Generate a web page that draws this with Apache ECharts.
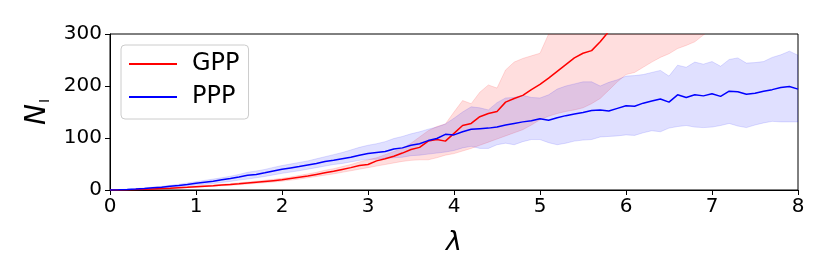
<!DOCTYPE html>
<html><head><meta charset="utf-8">
<script src="https://cdn.jsdelivr.net/npm/echarts@6/dist/echarts.min.js"></script>
<style>html,body{margin:0;padding:0;background:#fff}#c{width:830px;height:277px}</style>
</head><body><div id="c"></div>
<script>
// lambda grid (step 0.1)
const lambda = [0,0.1,0.2,0.3,0.4,0.5,0.6,0.7,0.8,0.9,1,1.1,1.2,1.3,1.4,1.5,1.6,1.7,1.8,1.9,2,2.1,2.2,2.3,2.4,2.5,2.6,2.7,2.8,2.9,3,3.1,3.2,3.3,3.4,3.5,3.6,3.7,3.8,3.9,4,4.1,4.2,4.3,4.4,4.5,4.6,4.7,4.8,4.9,5,5.1,5.2,5.3,5.4,5.5,5.6,5.7,5.8,5.9,6,6.1,6.2,6.3,6.4,6.5,6.6,6.7,6.8,6.9,7,7.1,7.2,7.3,7.4,7.5,7.6,7.7,7.8,7.9,8];

// GPP mean (red)
const gppMean = [0,0.2,0.5,0.9,1.4,2.1,2.8,3.6,4.5,5.4,6.4,7.4,8.4,9.5,10.6,12,13.5,15,16.5,18,19.5,22,24.5,27,30,33,36,39.5,43,47,49,56,60,65,71,78,82,94,97,94,109,124,128,141,147,151,169,176,182,193,203,215,228,241,254,263,268,285,305,328,350];
// GPP band
const gppLower = [0,0.1,0.3,0.7,1.1,1.7,2.4,3.1,3.8,4.6,5.4,6.3,7.2,8.1,9,10.2,11.5,12.8,14,15.4,17,19,21,23.5,26,28.5,31,34,37,40,43,46,49,52,55,57,58,58,62,67,70,75,80,86,92,98,104,110,116,125,135,142,147,151,154,158,166,176,192,208,222,226,236,246,255,262,272,278,285,298,310];
const gppUpper = [0,0.3,0.7,1.2,1.8,2.6,3.5,4.4,5.4,6.5,7.6,8.7,9.8,11,12.3,13.8,15.5,17,18.7,20.5,22.5,25,28,31,34,38,41,45,49,54,58,62,68,74,80,90,102,114,122,127,150,172,166,188,202,196,231,246,253,258,263,300,330,345,360,372,385,398,410,422,435,445,455,465,475,485,495,505,515,525,535];

// PPP mean (blue)
const pppMean = [0,0.5,1.2,2,3,4.5,5.5,7,8.5,10.5,13,15,17,19.5,22,25,28.5,30,33,36.5,40,42.5,45,48,51,55,57,60,63,67,70,72,74,79,81,86,89,95,99,107,106,112,117,118,119,121,125,128,131,133,137,134,139,143,146,149,153,154,152,157,162,161,167,171,175,169,183,178,183,181,185,180,190,189,184,186,190,193,197,199,194];
// PPP band
const pppLower = [0,0.3,0.8,1.4,2.2,3.2,4.2,5.3,6.5,8,9.5,11,12.5,14.5,16.5,19,21,23.5,26,29,32,34.5,37,40,43,46,49,51,54,57,59,59,61,62,63,66,67,69,71,73,76,81,84,80,80,87,90,87,93,97,97,91,87,90,94,96,97,102,103,104,106,105,110,114,112,119,122,124,121,120,121,124,128,123,120,125,129,132,131,131,131];
const pppUpper = [0,0.8,1.6,2.6,4,5.5,7,9,11,13.5,16,18.5,21,23.5,26.5,30,34,36.5,39.5,43.5,47,50,53,56,60,64,68,72,77,82,86,89,93,99,103,108,112,117,121,127,138,150,160,158,154,168,177,178,182,178,177,183,194,200,204,208,208,200,207,212,219,220,222,226,230,219,240,236,246,242,247,238,251,254,244,245,247,255,260,267,259];

const xTicks = [0,1,2,3,4,5,6,7,8];
const yTicks = [0,100,200,300];

const pairs = (arr) => arr.map((v, i) => [lambda[i], v]);

const chart = echarts.init(document.getElementById('c'), null, {renderer: 'canvas'});
const FONT = 'DejaVu Sans';

// band drawn as a polygon through the cartesian scales
const bandSeries = (name, lo, up, color) => ({
  name: name, type: 'custom', coordinateSystem: 'cartesian2d', clip: true, silent: true, z: 1,
  data: lo.map((v, i) => [lambda[i], v, up[i]]),
  encode: {x: 0, y: [1, 2]},
  renderItem: function (params, api) {
    if (params.dataIndex !== 0) return null;
    const top = [], bot = [];
    for (let i = 0; i < lo.length; i++) {
      top.push(api.coord([lambda[i], up[i]]));
      bot.push(api.coord([lambda[i], lo[i]]));
    }
    const pts = top.concat(bot.reverse());
    return {type: 'polygon', shape: {points: pts},
            style: {fill: color, stroke: color, lineWidth: 1}};
  }
});

chart.setOption({
  animation: false,
  backgroundColor: '#fff',
  grid: {left: 110, right: 32, top: 34, bottom: 87, show: true, borderColor: '#000', borderWidth: 1, backgroundColor: 'transparent'},
  xAxis: {
    type: 'value', min: xTicks[0], max: xTicks[xTicks.length - 1], interval: 1,
    name: 'λ', nameLocation: 'middle', nameGap: 39,
    nameTextStyle: {fontFamily: FONT, fontSize: 27, fontStyle: 'italic', color: '#000'},
    axisLine: {show: true, lineStyle: {color: '#000', width: 1}},
    axisTick: {show: true, length: 5, lineStyle: {color: '#000'}},
    axisLabel: {fontFamily: FONT, fontSize: 20, color: '#000', margin: 7, showMinLabel: true, showMaxLabel: true},
    splitLine: {show: false}
  },
  yAxis: {
    type: 'value', min: yTicks[0], max: yTicks[yTicks.length - 1], interval: 100,
    name: '{n|N}{s|I}', nameLocation: 'middle', nameGap: 58, nameRotate: 90,
    nameTextStyle: {
      rich: {
        n: {fontFamily: FONT, fontSize: 28, fontStyle: 'italic', color: '#000', verticalAlign: 'bottom'},
        s: {fontFamily: FONT, fontSize: 14, color: '#000', verticalAlign: 'bottom', padding: [0, 0, 0, 1]}
      }
    },
    axisLine: {show: true, lineStyle: {color: '#000', width: 1}},
    axisTick: {show: true, length: 5, lineStyle: {color: '#000'}},
    axisLabel: {fontFamily: FONT, fontSize: 20, color: '#000', margin: 8, showMinLabel: true, showMaxLabel: true},
    splitLine: {show: false}
  },
  legend: {
    data: [{name: 'GPP', icon: 'rect'}, {name: 'PPP', icon: 'rect'}],
    orient: 'vertical', left: 121, top: 45,
    itemWidth: 48, itemHeight: 2, itemGap: 7,
    padding: [6, 9, 9, 8],
    borderColor: '#cccccc', borderWidth: 1, borderRadius: 4,
    backgroundColor: 'rgba(255,255,255,0.8)',
    textStyle: {fontFamily: FONT, fontSize: 24, color: '#000', lineHeight: 26, padding: [0, 0, 0, 10]}
  },
  series: [
    bandSeries('gppBand', gppLower, gppUpper, 'rgba(255,0,0,0.13)'),
    bandSeries('pppBand', pppLower, pppUpper, 'rgba(0,0,255,0.12)'),
    {name: 'GPP', type: 'line', data: pairs(gppMean), symbol: 'none', color: '#ff0000',
     lineStyle: {color: '#ff0000', width: 1.5}, z: 3},
    {name: 'PPP', type: 'line', data: pairs(pppMean), symbol: 'none', color: '#0000ff',
     lineStyle: {color: '#0000ff', width: 1.5}, z: 3}
  ]
});
</script></body></html>
